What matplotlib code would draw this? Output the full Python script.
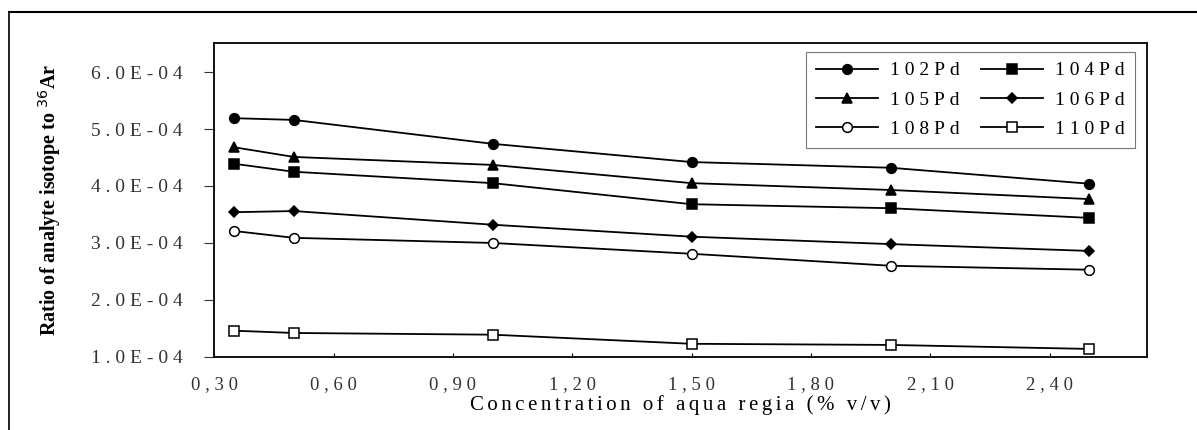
import matplotlib
matplotlib.use("Agg")
import matplotlib.pyplot as plt
from matplotlib.lines import Line2D
from matplotlib.ticker import FixedLocator, FuncFormatter

# concentration of aqua regia (% v/v)
conc = [0.35, 0.5, 1.0, 1.5, 2.0, 2.5]

# ratio of analyte isotope to 36Ar
pd102 = [5.19e-4, 5.16e-4, 4.74e-4, 4.42e-4, 4.32e-4, 4.04e-4]
pd104 = [4.39e-4, 4.25e-4, 4.05e-4, 3.68e-4, 3.61e-4, 3.44e-4]
pd105 = [4.68e-4, 4.51e-4, 4.37e-4, 4.05e-4, 3.93e-4, 3.77e-4]
pd106 = [3.54e-4, 3.56e-4, 3.32e-4, 3.11e-4, 2.98e-4, 2.86e-4]
pd108 = [3.21e-4, 3.09e-4, 3.00e-4, 2.81e-4, 2.60e-4, 2.53e-4]
pd110 = [1.46e-4, 1.42e-4, 1.39e-4, 1.23e-4, 1.21e-4, 1.14e-4]

xticks = [0.30, 0.60, 0.90, 1.20, 1.50, 1.80, 2.10, 2.40]
yticks = [1e-4, 2e-4, 3e-4, 4e-4, 5e-4, 6e-4]

plt.rcParams['font.family'] = ['Liberation Serif', 'DejaVu Serif']

def spaced(s, sep="\u2009"):
    # the scanned chart has wide letter spacing
    return sep.join(s)

fig = plt.figure(figsize=(11.97, 4.30), dpi=100)
ax = fig.add_axes([0.179, 0.170, 0.779, 0.730])

# (label, data, marker, filled, size) -- legend fills column-major
series = [
    ("102Pd", pd102, "o", True, 7),
    ("105Pd", pd105, "^", True, 7),
    ("108Pd", pd108, "o", False, 7),
    ("104Pd", pd104, "s", True, 7),
    ("106Pd", pd106, "D", True, 5),
    ("110Pd", pd110, "s", False, 7),
]
for name, vals, mk, filled, ms in series:
    ax.plot(conc, vals, color="black", lw=1.3, marker=mk, ms=ms,
            mfc="black" if filled else "white", mec="black", mew=1.1,
            label=spaced(name, "\u2005"))

ax.set_xlim(0.30, 2.644)
ax.set_ylim(1e-4, 6.51e-4)
ax.xaxis.set_major_locator(FixedLocator(xticks))
ax.yaxis.set_major_locator(FixedLocator(yticks))
ax.xaxis.set_major_formatter(FuncFormatter(
    lambda v, p: spaced(("%.2f" % v).replace(".", ","), "\u2005")))
ax.yaxis.set_major_formatter(FuncFormatter(
    lambda v, p: spaced("%.1fE-04" % (v * 1e4), "\u2005")))
ax.tick_params(axis="y", direction="out", length=7, labelsize=14, pad=16,
               colors="#333333", labelcolor="#333333")
ax.tick_params(axis="x", direction="in", length=3, labelsize=13.5, pad=14,
               labelcolor="#333333")
for s in ax.spines.values():
    s.set_linewidth(1.3)

ax.set_xlabel(spaced("Concentration of aqua regia (% v/v)", "\u2006"),
              fontsize=15, labelpad=1)
ax.set_ylabel("Ratio of analyte isotope to $^{36}$Ar", fontsize=14.5,
              fontweight="bold", labelpad=20)

leg = ax.legend(ncol=2, loc="upper right", bbox_to_anchor=(0.987, 0.971),
                borderaxespad=0,
                fontsize=14, frameon=True, fancybox=False, edgecolor="#555555",
                handlelength=3.2, handletextpad=0.6, columnspacing=1.1,
                labelspacing=0.6, borderpad=0.5)
leg.get_frame().set_linewidth(0.8)

# outer frame (top and left edges)
fig.add_artist(Line2D([0.0075, 1.0], [0.972, 0.972], color="black", lw=1.5))
fig.add_artist(Line2D([0.0075, 0.0075], [0.0, 0.972], color="black", lw=1.2))

fig.savefig("out.png", dpi=100)
